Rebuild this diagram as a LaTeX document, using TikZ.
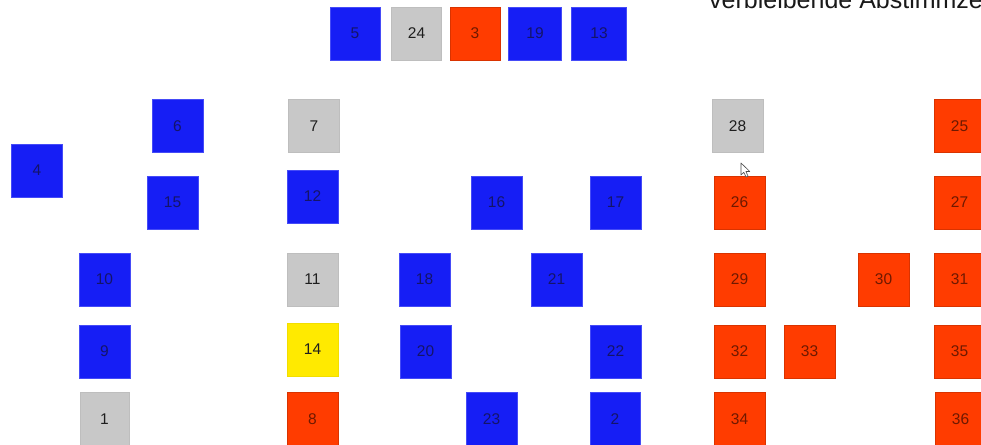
\documentclass[tikz,border=0pt]{standalone}
\usepackage{fontspec}
\setmainfont{Liberation Sans}
\definecolor{cblue}{RGB}{22,30,245}
\definecolor{cred}{RGB}{255,60,0}
\definecolor{cgray}{RGB}{200,200,200}
\definecolor{cyellow}{RGB}{255,234,0}
\definecolor{tblue}{RGB}{20,20,105}
\definecolor{tred}{RGB}{110,25,0}
\definecolor{tdark}{RGB}{30,30,30}
\tikzset{
  seat/.style={minimum width=51pt, minimum height=53pt, inner sep=0pt, font=\fontsize{15.5}{16}\selectfont, line width=0.6pt},
  bseat/.style={seat, fill=cblue, draw=cblue!80!white, text=tblue},
  rseat/.style={seat, fill=cred, draw=cred!85!black, text=tred},
  gseat/.style={seat, fill=cgray, draw=cgray!95!black, text=tdark},
  yseat/.style={seat, fill=cyellow, draw=cyellow!95!black, text=tdark},
  cursor/.style={fill=white, draw=black!70, line width=0.6pt, line join=round}
}
\begin{document}
\begin{tikzpicture}[x=1pt,y=-1pt]
\useasboundingbox (0,0) rectangle (981,444);
\fill[white] (0,0) rectangle (981,444);
% title (cut off)
\node[anchor=base west, inner sep=0pt, font=\fontsize{25}{28}\selectfont, text=black!90] (title) at (709,8.5) {verbleibende Abstimmze};
% top row
\node[bseat, minimum width=50pt] (s5) at (355,33.5) {5};
\node[gseat, minimum width=50pt] (s24) at (416.5,33.5) {24};
\node[rseat, minimum width=50pt] (s3) at (475,33.5) {3};
\node[bseat, minimum width=53pt] (s19) at (535,33.5) {19};
\node[bseat, minimum width=55pt] (s13) at (599,33.5) {13};
% left block
\node[bseat] (s4) at (37,170.5) {4};
\node[bseat] (s6) at (177.5,126) {6};
\node[bseat] (s15) at (172.5,202.5) {15};
\node[gseat] (s7) at (314,126) {7};
\node[bseat] (s12) at (312.5,196.5) {12};
\node[bseat] (s10) at (104.5,279.5) {10};
\node[bseat] (s9) at (104.5,351.5) {9};
\node[gseat, minimum width=49pt] (s1) at (104.5,419) {1};
\node[gseat] (s11) at (312.5,279.5) {11};
\node[yseat] (s14) at (312.5,349.5) {14};
\node[rseat] (s8) at (312.5,419) {8};
% middle block
\node[bseat] (s16) at (496.5,202.5) {16};
\node[bseat] (s17) at (615.5,202.5) {17};
\node[bseat] (s18) at (424.5,279.5) {18};
\node[bseat] (s21) at (556.5,279.5) {21};
\node[bseat] (s20) at (425.5,351.5) {20};
\node[bseat] (s22) at (615.5,351.5) {22};
\node[bseat] (s23) at (491.5,419) {23};
\node[bseat, minimum width=50pt] (s2) at (615,419) {2};
% right block
\node[gseat] (s28) at (737.5,126) {28};
\node[rseat] (s26) at (739.5,202.5) {26};
\node[rseat] (s29) at (739.5,279.5) {29};
\node[rseat] (s32) at (739.5,351.5) {32};
\node[rseat] (s34) at (739.5,419) {34};
\node[rseat] (s33) at (809.5,351.5) {33};
\node[rseat] (s30) at (883.5,279.5) {30};
\node[rseat] (s25) at (959.5,126) {25};
\node[rseat] (s27) at (959.5,202.5) {27};
\node[rseat] (s31) at (959.5,279.5) {31};
\node[rseat] (s35) at (959.5,351.5) {35};
\node[rseat] (s36) at (960.5,419) {36};
% mouse cursor
\draw[cursor] (741,163) -- (741,175) -- (743.8,172.3) -- (746,177) -- (748,176.1) -- (745.9,171.5) -- (749.8,171.5) -- cycle;
\end{tikzpicture}
\end{document}
